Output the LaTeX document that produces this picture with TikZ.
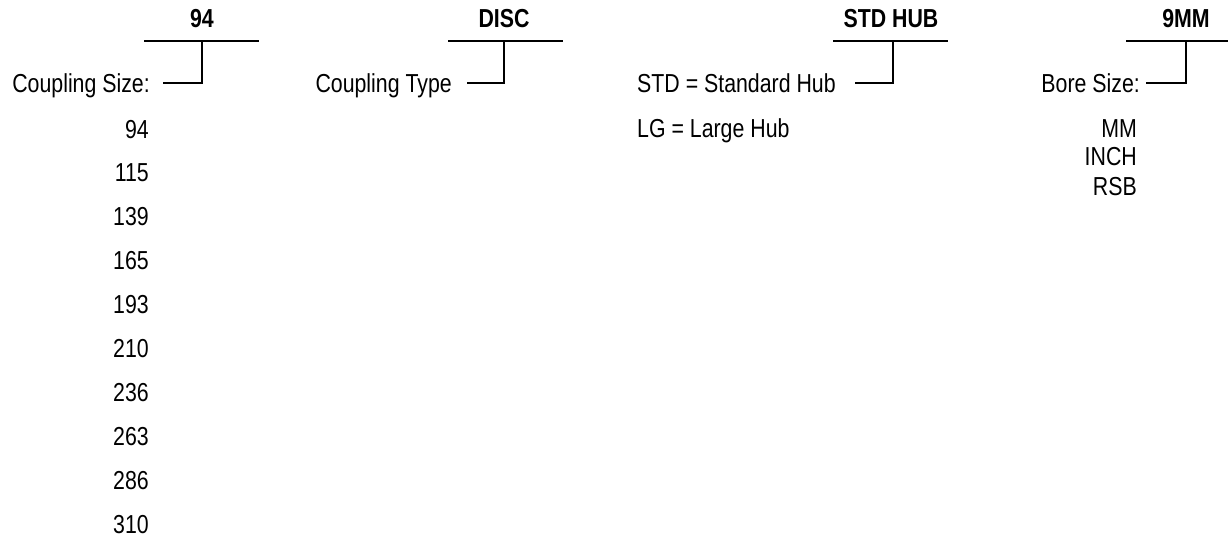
\documentclass[tikz,border=0pt]{standalone}
\usepackage{fontspec}
\setmainfont[FakeStretch=0.82]{Liberation Sans}

\begin{document}
\begin{tikzpicture}[x=1pt,y=-1pt,inner sep=0pt,
    font=\fontsize{26}{30}\selectfont,
    code/.style={anchor=base,font=\fontsize{26}{30}\selectfont\bfseries},
    bar/.style={line width=2.5pt}]
  \useasboundingbox (0,0) rectangle (1228,541);

  % coupling size
  \node[code] (hdsize) at (202,27) {94};
  \coordinate (sizeL) at (144,41);
  \coordinate (sizeR) at (259,41);
  \coordinate (sizeT) at (202,41);
  \coordinate (sizeB) at (202,83);
  \coordinate (sizeE) at (163,83);
  \draw[bar] (sizeL) -- (sizeR);
  \draw[bar] (sizeT) -- (sizeB) -- (sizeE);
  \node[anchor=base east] (lbsize) at (150,92) {Coupling Size:};
  \foreach \sz [count=\i from 0] in {94,115,139,165,193,210,236,263,286,310}
    \node[anchor=base east] (sz\i) at (149,138+43.9*\i) {\sz};

  % coupling type
  \node[code] (hdtype) at (504,27) {DISC};
  \coordinate (typeL) at (448,41);
  \coordinate (typeR) at (563,41);
  \coordinate (typeT) at (504,41);
  \coordinate (typeB) at (504,83);
  \coordinate (typeE) at (467,83);
  \draw[bar] (typeL) -- (typeR);
  \draw[bar] (typeT) -- (typeB) -- (typeE);
  \node[anchor=base east] (lbtype) at (452,92) {Coupling Type};

  % hub
  \node[code] (hdhub) at (891,27) {STD HUB};
  \coordinate (hubL) at (833,41);
  \coordinate (hubR) at (948,41);
  \coordinate (hubT) at (893,41);
  \coordinate (hubB) at (893,83);
  \coordinate (hubE) at (855,83);
  \draw[bar] (hubL) -- (hubR);
  \draw[bar] (hubT) -- (hubB) -- (hubE);
  \node[anchor=base west] (lbstd) at (637,92) {STD = Standard Hub};
  \node[anchor=base west] (lblg) at (637,137) {LG = Large Hub};

  % bore
  \node[code] (hdbore) at (1186,27) {9MM};
  \coordinate (boreL) at (1126,41);
  \coordinate (boreR) at (1228,41);
  \coordinate (boreT) at (1186,41);
  \coordinate (boreB) at (1186,83);
  \coordinate (boreE) at (1146,83);
  \draw[bar] (boreL) -- (boreR);
  \draw[bar] (boreT) -- (boreB) -- (boreE);
  \node[anchor=base east] (lbbore) at (1140,92) {Bore Size:};
  \node[anchor=base east] (bmm) at (1137,137) {MM};
  \node[anchor=base east] (binch) at (1137,165) {INCH};
  \node[anchor=base east] (brsb) at (1137,195) {RSB};
\end{tikzpicture}
\end{document}
